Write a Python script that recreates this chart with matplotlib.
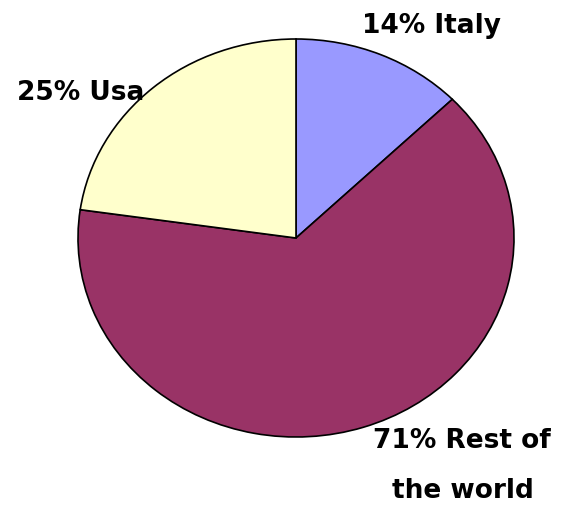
import matplotlib
matplotlib.use("Agg")
import matplotlib.pyplot as plt

# values as printed on the slices (they sum to 110, the pie normalises them)
countries = ["Italy", "Rest of\nthe world", "Usa"]
shares = [14, 71, 25]
colors = ["#9999FF", "#993366", "#FFFFCC"]

W, H = 584, 512
fig = plt.figure(figsize=(W / 100, H / 100), dpi=100)
fig.patch.set_facecolor("white")

# pie box in pixels: centre (296, 238), rx 218, ry 199
cx, cy, rx, ry = 296, 238, 218, 199
ax = fig.add_axes([(cx - rx) / W, (H - cy - ry) / H, 2 * rx / W, 2 * ry / H])
ax.pie(shares, colors=colors, startangle=90, counterclock=False,
       wedgeprops=dict(edgecolor="black", linewidth=1.2))
ax.set_aspect("auto")
ax.set_xlim(-1, 1)
ax.set_ylim(-1, 1)
ax.axis("off")

font = dict(family=["DejaVu Sans"], weight="bold", fontsize=19, color="black")

# label anchors (left x, baseline y) in pixels
lab_pos = [(362, 33), (373, 448), (17, 100)]
for (x, y), name, s in zip(lab_pos, countries, shares):
    lines = f"{s}% {name}".split("\n")
    for i, line in enumerate(lines):
        xx = x if i == 0 else x + 19
        fig.text(xx / W, 1 - (y + i * 50) / H, line, ha="left", va="baseline", **font)

fig.savefig("out.png", dpi=100)
